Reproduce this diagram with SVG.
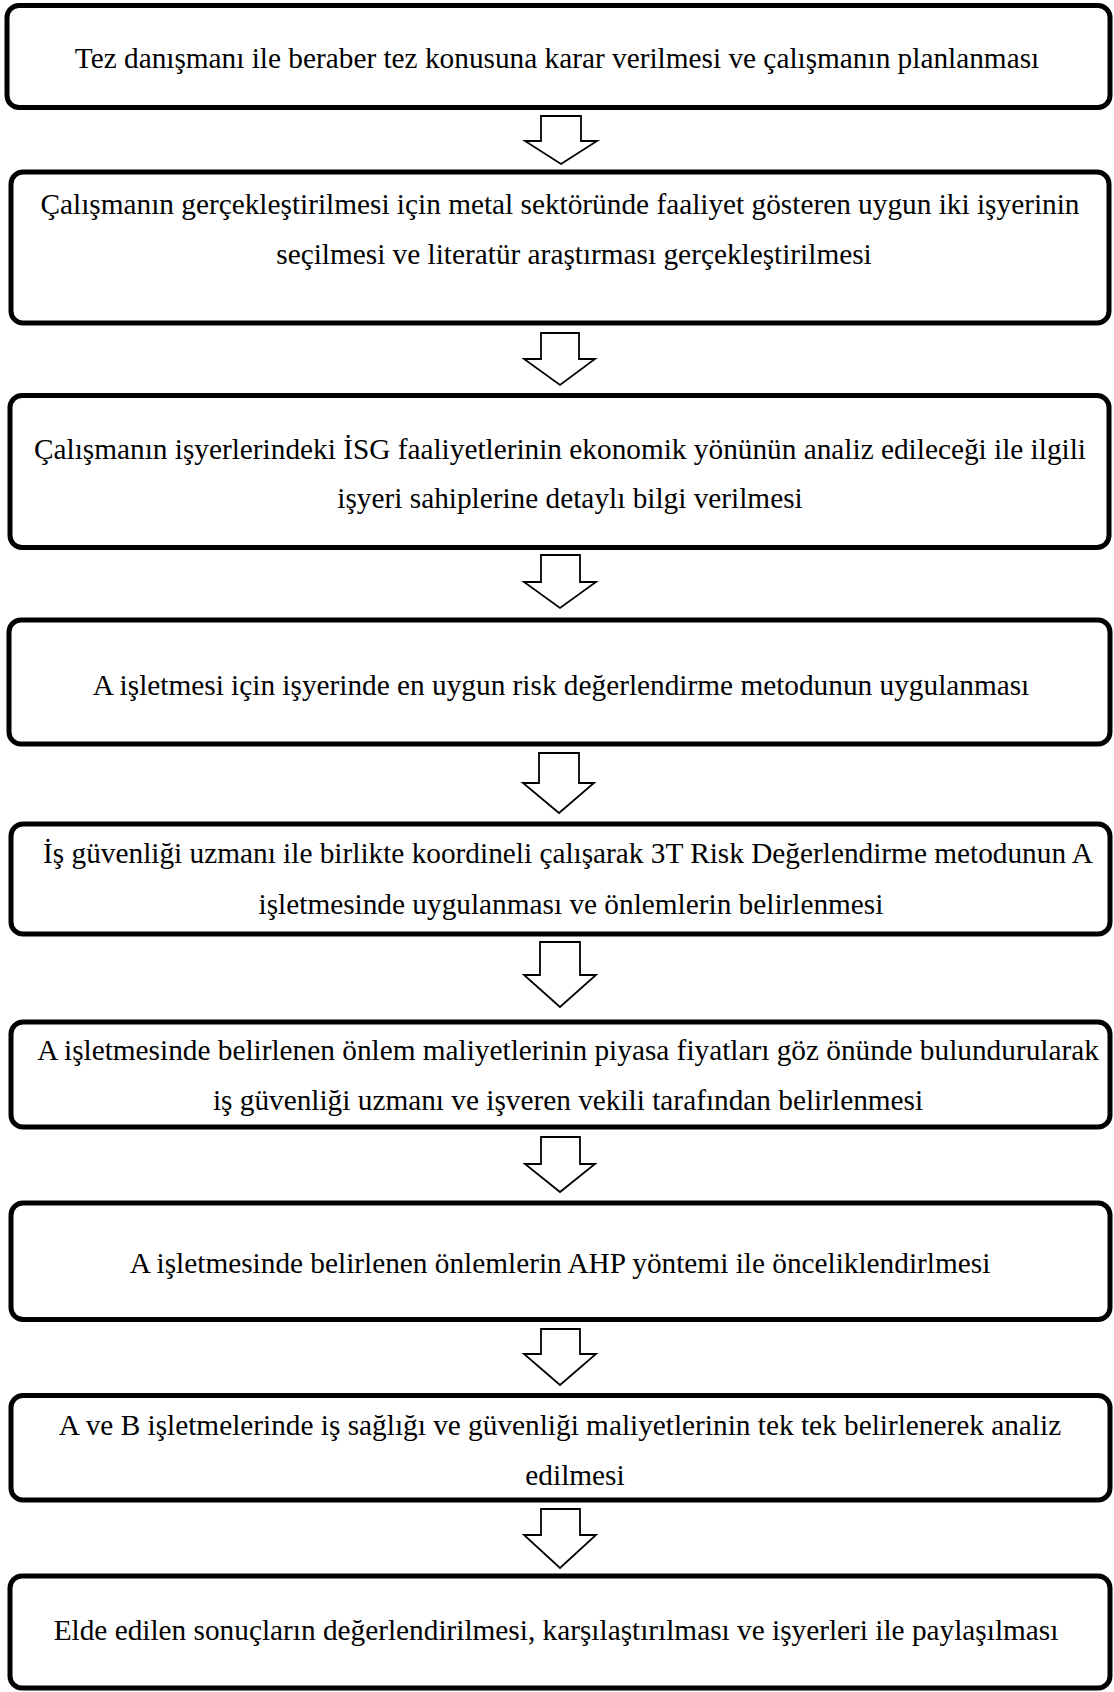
<svg xmlns="http://www.w3.org/2000/svg" width="1114" height="1692" viewBox="0 0 1114 1692">
<style>
.box{fill:#fff;stroke:#000;stroke-width:5}
.t{font-family:"Liberation Serif","Times New Roman",serif;font-size:29.3px;fill:#000;text-anchor:middle}
.arr{fill:#fff;stroke:#000;stroke-width:1.8;stroke-linejoin:miter}
</style>
<rect width="1114" height="1692" fill="#fff"/>
<g id="n1"><rect class="box" x="7" y="5.5" width="1103" height="102" rx="12"/>
<text class="t" x="557" y="68">Tez danışmanı ile beraber tez konusuna karar verilmesi ve çalışmanın planlanması</text></g>
<g id="n2"><rect class="box" x="11" y="172" width="1098" height="151" rx="12"/>
<text class="t" x="560" y="214">Çalışmanın gerçekleştirilmesi için metal sektöründe faaliyet gösteren uygun iki işyerinin</text>
<text class="t" x="574" y="264">seçilmesi ve literatür araştırması gerçekleştirilmesi</text></g>
<g id="n3"><rect class="box" x="10" y="395.5" width="1099" height="152" rx="12"/>
<text class="t" x="560" y="459">Çalışmanın işyerlerindeki İSG faaliyetlerinin ekonomik yönünün analiz edileceği ile ilgili</text>
<text class="t" x="570" y="508">işyeri sahiplerine detaylı bilgi verilmesi</text></g>
<g id="n4"><rect class="box" x="9" y="620" width="1101" height="124" rx="12"/>
<text class="t" x="561" y="695">A işletmesi için işyerinde en uygun risk değerlendirme metodunun uygulanması</text></g>
<g id="n5"><rect class="box" x="11" y="824" width="1099" height="110" rx="12"/>
<text class="t" x="568" y="863">İş güvenliği uzmanı ile birlikte koordineli çalışarak 3T Risk Değerlendirme metodunun A</text>
<text class="t" x="571" y="914">işletmesinde uygulanması ve önlemlerin belirlenmesi</text></g>
<g id="n6"><rect class="box" x="11" y="1022" width="1099" height="105" rx="12"/>
<text class="t" x="568" y="1060">A işletmesinde belirlenen önlem maliyetlerinin piyasa fiyatları göz önünde bulundurularak</text>
<text class="t" x="568" y="1110">iş güvenliği uzmanı ve işveren vekili tarafından belirlenmesi</text></g>
<g id="n7"><rect class="box" x="11" y="1203" width="1099" height="116.5" rx="12"/>
<text class="t" x="560" y="1273">A işletmesinde belirlenen önlemlerin AHP yöntemi ile önceliklendirlmesi</text></g>
<g id="n8"><rect class="box" x="11" y="1395.5" width="1099" height="104.5" rx="12"/>
<text class="t" x="560" y="1435">A ve B işletmelerinde iş sağlığı ve güvenliği maliyetlerinin tek tek belirlenerek analiz</text>
<text class="t" x="575" y="1485">edilmesi</text></g>
<g id="n9"><rect class="box" x="10" y="1576" width="1100" height="112" rx="12"/>
<text class="t" x="556" y="1640">Elde edilen sonuçların değerlendirilmesi, karşılaştırılması ve işyerleri ile paylaşılması</text></g>
<g id="connectors">
<polygon class="arr" points="541,116 581,116 581,141 597,141 561,164 525,141 541,141"/>
<polygon class="arr" points="541,333 579,333 579,359 595,359 560,385 524,359 541,359"/>
<polygon class="arr" points="541,555 580,555 580,582 596,582 560,608 524,582 541,582"/>
<polygon class="arr" points="539,753 579,753 579,783 594,783 559,813 523,783 539,783"/>
<polygon class="arr" points="540,942 580,942 580,975 596,975 560,1007 524,975 540,975"/>
<polygon class="arr" points="541,1137 580,1137 580,1164 595,1164 560,1192 525,1164 541,1164"/>
<polygon class="arr" points="541,1329 580,1329 580,1354 596,1354 560,1385 524,1354 541,1354"/>
<polygon class="arr" points="541,1509 580,1509 580,1535 596,1535 560,1568 524,1535 541,1535"/>
</g>
</svg>
